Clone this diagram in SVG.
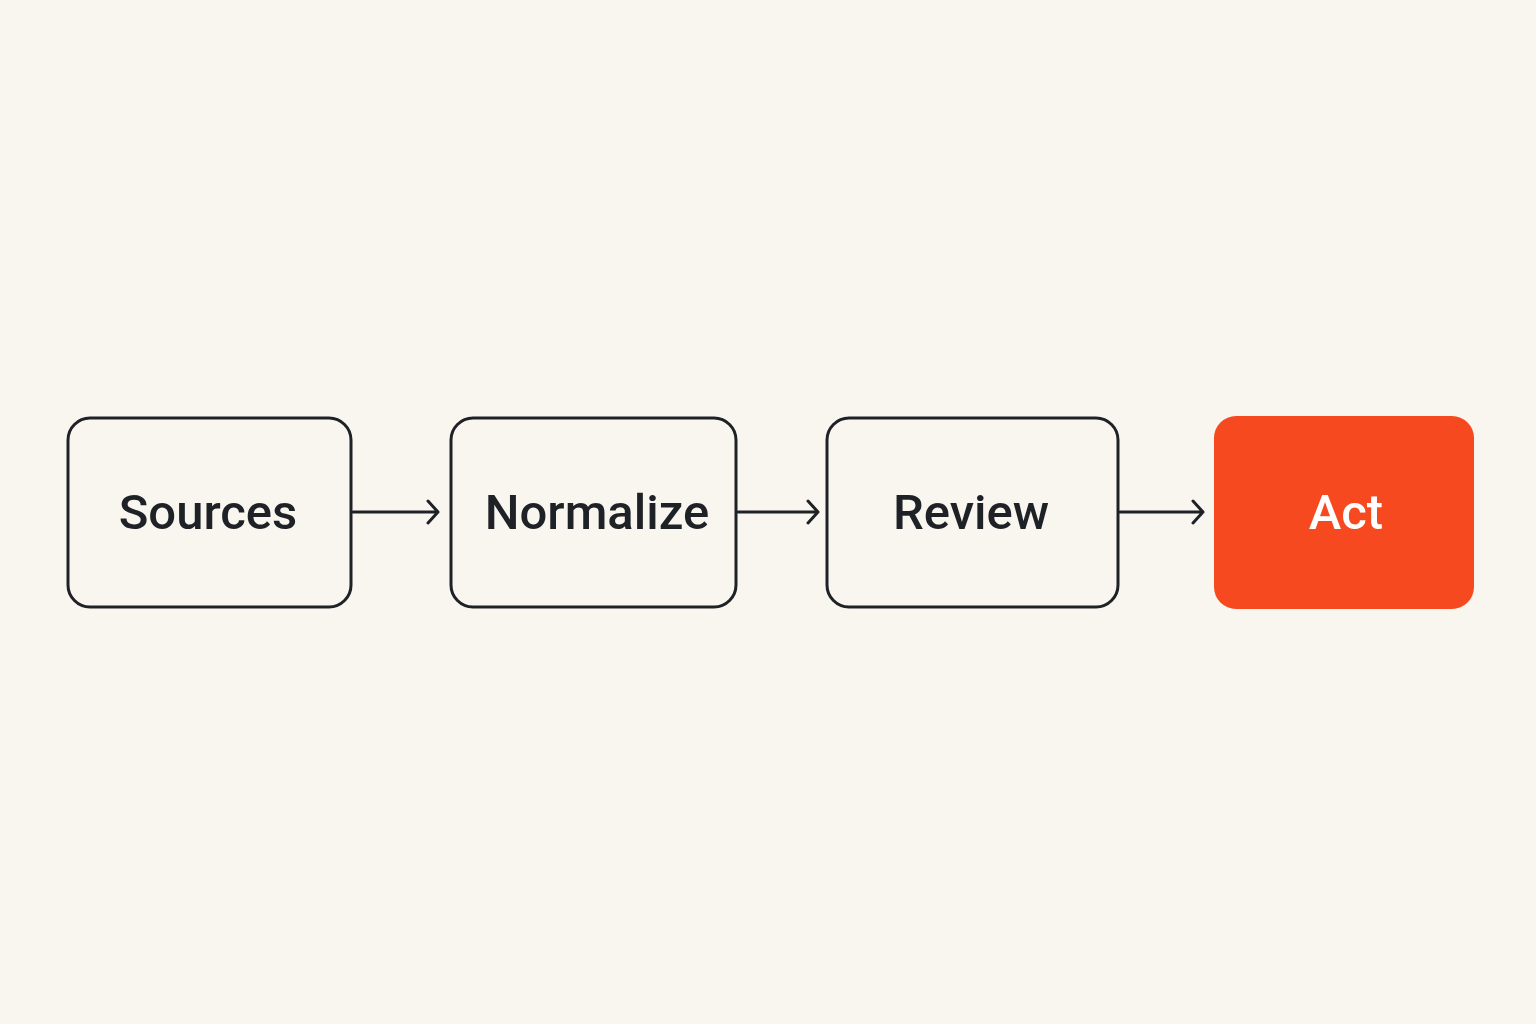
<svg xmlns="http://www.w3.org/2000/svg" width="1536" height="1024" viewBox="0 0 1536 1024">
<style>
.box{fill:none;stroke:#1e2226;stroke-width:3}
.lbl{font-family:Roboto,"Liberation Sans",sans-serif;font-weight:500;font-size:49px;fill:#1e2226;text-anchor:middle}
.conn{fill:none;stroke:#1e2226;stroke-width:3;stroke-linecap:round;stroke-linejoin:round}
</style>
<rect width="1536" height="1024" fill="#f9f6f0"/>
<g id="sources"><rect class="box" x="68" y="418" width="283" height="189" rx="22"/><text class="lbl" x="208" y="529">Sources</text></g>
<g id="normalize"><rect class="box" x="451" y="418" width="285" height="189" rx="22"/><text class="lbl" x="597" y="529">Normalize</text></g>
<g id="review"><rect class="box" x="827" y="418" width="291" height="189" rx="22"/><text class="lbl" x="971" y="529">Review</text></g>
<g id="act"><rect x="1214" y="416" width="260" height="193" rx="22" fill="#f7491f"/><text class="lbl" x="1346" y="529" style="fill:#ffffff">Act</text></g>
<g id="connectors">
<path class="conn" d="M353 512H438M428 501L438 512L428 523"/>
<path class="conn" d="M738 512H818M808 501L818 512L808 523"/>
<path class="conn" d="M1120 512H1203M1193 501L1203 512L1193 523"/>
</g>
</svg>
